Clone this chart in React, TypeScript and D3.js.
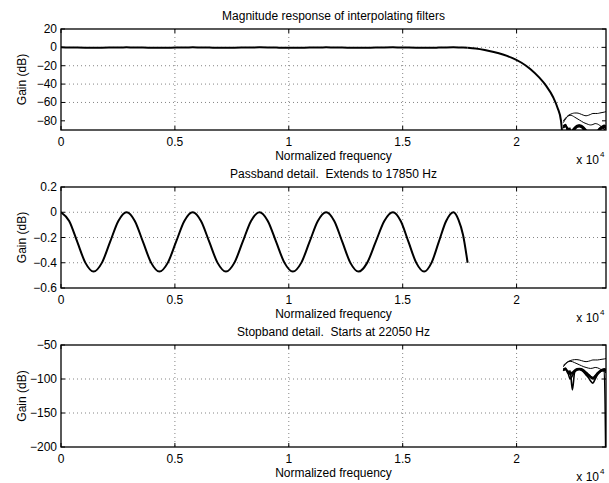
import React from "react";
import * as d3 from "d3";

// passband ripple (Hz, dB)
const passFreq = [
  0, 358, 715, 1073, 1430, 1793, 2155, 2518, 2880, 3240, 3600, 3960, 4320,
  4685, 5050, 5415, 5780, 6145, 6510, 6875, 7240, 7608, 7975, 8343, 8710,
  9078, 9445, 9813, 10180, 10545, 10910, 11275, 11640, 11995, 12350, 12705,
  13060, 13438, 13815, 14193, 14570, 14913, 15255, 15598, 15940, 16263, 16585,
  16908, 17230, 17450, 17650, 17850,
];
const passGain = [
  0, -0.069, -0.235, -0.401, -0.47, -0.401, -0.235, -0.069, 0, -0.069, -0.235,
  -0.401, -0.47, -0.401, -0.235, -0.069, 0, -0.069, -0.235, -0.401, -0.47,
  -0.401, -0.235, -0.069, 0, -0.069, -0.235, -0.401, -0.47, -0.401, -0.235,
  -0.069, 0, -0.069, -0.235, -0.401, -0.47, -0.401, -0.235, -0.069, 0, -0.069,
  -0.235, -0.401, -0.47, -0.401, -0.235, -0.069, 0, -0.06, -0.18, -0.4,
];

// transition band
const transFreq = [
  17850, 18200, 18600, 19000, 19400, 19800, 20200, 20600, 21000, 21300, 21600,
  21800, 21950, 22050,
];
const transGain = [
  -0.4, -1.2, -2.8, -5.0, -7.8, -11.5, -16.5, -23.5, -33, -42, -54, -66, -80,
  -110,
];

// stopband, one array per filter
const stopFreq = [
  22050, 22150, 22250, 22350, 22450, 22550, 22650, 22750, 22850, 22950, 23050,
  23150, 23250, 23350, 23450, 23550, 23650, 23750, 23850, 23925,
];
const stopA = [
  -80, -77, -74.5, -73, -72, -71.5, -71.5, -72, -73, -74, -74.5, -74, -73, -72,
  -72, -72, -71.5, -71, -70.5, -70,
];
const stopB = [
  -82, -78, -75, -74, -74.5, -76, -77.5, -79, -80.5, -82, -83, -84, -84.5, -84,
  -83, -83.5, -85, -87, -89, -91,
];
const stopC = [
  -86, -84, -92, -88, -116, -90, -87, -86, -87, -89, -92, -95, -98, -100, -97,
  -93, -90, -88, -87, -250,
];
const stopD = [
  -88, -85, -90, -100, -95, -89, -86, -85, -86, -88, -91, -94, -97, -99, -96,
  -92, -89, -87, -86, -88,
];
const stopE = [
  -87, -86, -89, -93, -92, -88, -86.5, -86, -87, -90, -94, -98, -103, -106,
  -100, -94, -90, -88, -87, -89,
];
const stopF = [
  -85, -86, -88, -91, -90, -87, -85, -84.5, -85, -87, -90, -93, -96, -98, -95,
  -91, -88, -86, -85, -86,
];

const xTicks = [0, 5000, 10000, 15000, 20000];
const magTicks = [20, 0, -20, -40, -60, -80];
const passTicks = [0.2, 0, -0.2, -0.4, -0.6];
const stopTicks = [-50, -100, -150, -200];

const FONT = "'Liberation Sans', Arial, Helvetica, sans-serif";
const FS = 12;
const left = 61;
const right = 606;
const x = d3.scaleLinear().domain([0, 23925]).range([left, right]);

const minus = (s: string) => s.replace("-", "\u2212");

type Series = { fx: number[]; gy: number[]; w: number };

function Panel({ id, top, bottom, yDomain, yTicks, title, series }: {
  id: string; top: number; bottom: number; yDomain: [number, number];
  yTicks: number[]; title: string; series: Series[];
}) {
  const y = d3.scaleLinear().domain(yDomain).range([bottom, top]);
  const tl = 4;
  return (
    <g>
      <defs>
        <clipPath id={id}>
          <rect x={left} y={top} width={right - left} height={bottom - top} />
        </clipPath>
      </defs>
      <rect x={left} y={top} width={right - left} height={bottom - top} fill="#fff" />
      {xTicks.slice(1).map(t => (
        <line key={"gx" + t} x1={x(t)} x2={x(t)} y1={top} y2={bottom}
          stroke="#666" strokeWidth={0.8} strokeDasharray="1 3" />
      ))}
      {yTicks.slice(1, -1).map(t => (
        <line key={"gy" + t} x1={left} x2={right} y1={y(t)} y2={y(t)}
          stroke="#666" strokeWidth={0.8} strokeDasharray="1 3" />
      ))}
      <g clipPath={`url(#${id})`}>
        {series.map((s, i) => {
          const line = d3.line<number>()
            .x((_, j) => x(s.fx[j]))
            .y(d => y(d))
            .curve(d3.curveMonotoneX);
          return <path key={i} d={line(s.gy) || ""} fill="none" stroke="#000"
            strokeWidth={s.w} strokeLinejoin="round" />;
        })}
      </g>
      {xTicks.map(t => (
        <g key={"tx" + t}>
          <line x1={x(t)} x2={x(t)} y1={bottom} y2={bottom - tl} stroke="#000" />
          <line x1={x(t)} x2={x(t)} y1={top} y2={top + tl} stroke="#000" />
          <text x={x(t)} y={bottom + 16} textAnchor="middle" fontSize={FS}
            fontFamily={FONT}>{d3.format("~g")(t / 10000)}</text>
        </g>
      ))}
      {yTicks.map(t => (
        <g key={"ty" + t}>
          <line x1={left} x2={left + tl} y1={y(t)} y2={y(t)} stroke="#000" />
          <line x1={right} x2={right - tl} y1={y(t)} y2={y(t)} stroke="#000" />
          <text x={left - 4} y={y(t) + 4} textAnchor="end" fontSize={FS}
            fontFamily={FONT}>{minus(d3.format("~g")(t))}</text>
        </g>
      ))}
      <rect x={left} y={top} width={right - left} height={bottom - top}
        fill="none" stroke="#000" strokeWidth={1.3} />
      <text x={(left + right) / 2} y={top - 9} textAnchor="middle" fontSize={FS}
        fontFamily={FONT} style={{ whiteSpace: "pre" }}>{title}</text>
      <text x={(left + right) / 2} y={bottom + 30} textAnchor="middle" fontSize={FS}
        fontFamily={FONT}>Normalized frequency</text>
      <text x={599} y={bottom + 34} textAnchor="end" fontSize={FS} fontFamily={FONT}>x 10</text>
      <text x={600} y={bottom + 27} fontSize={8} fontFamily={FONT}>4</text>
      <text transform={`translate(26,${(top + bottom) / 2}) rotate(-90)`}
        textAnchor="middle" fontSize={FS} fontFamily={FONT}>Gain (dB)</text>
    </g>
  );
}

export default function App() {
  const stops = [stopA, stopB, stopC, stopD, stopE, stopF];
  const stopSeries: Series[] = stops.map((s, i) => ({ fx: stopFreq, gy: s, w: i < 2 ? 1 : 1.6 }));
  return (
    <svg width={609} height={483} style={{ position: "absolute", left: 0, top: 0, background: "#fff" }}>
      <rect width={609} height={483} fill="#fff" />
      <Panel id="c1" top={29} bottom={130} yDomain={[-90, 20]} yTicks={magTicks.slice().reverse()}
        title="Magnitude response of interpolating filters"
        series={[
          { fx: passFreq, gy: passGain, w: 2 },
          { fx: transFreq, gy: transGain, w: 2 },
          ...stopSeries,
        ]} />
      <Panel id="c2" top={187} bottom={288} yDomain={[-0.6, 0.2]} yTicks={passTicks.slice().reverse()}
        title="Passband detail.  Extends to 17850 Hz"
        series={[{ fx: passFreq, gy: passGain, w: 2 }]} />
      <Panel id="c3" top={345} bottom={447} yDomain={[-200, -50]} yTicks={stopTicks.slice().reverse()}
        title="Stopband detail.  Starts at 22050 Hz"
        series={stopSeries} />
    </svg>
  );
}
